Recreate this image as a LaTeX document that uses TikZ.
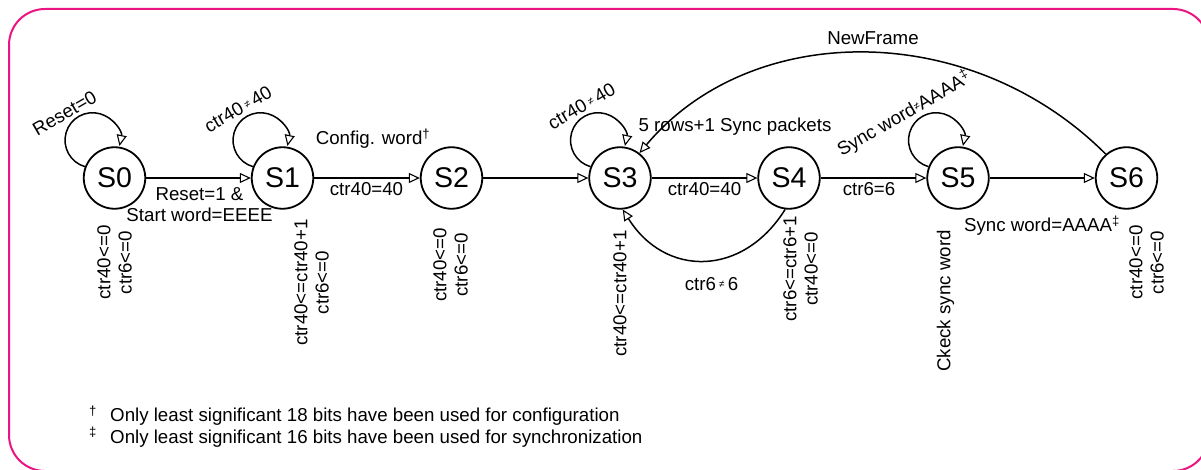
\documentclass[tikz,border=0pt]{standalone}
\usepackage{fontspec}
\setmainfont{Liberation Sans}
\usetikzlibrary{arrows.meta}
\definecolor{framepink}{RGB}{235,20,130}
% small "not equal" sign used in the guard labels
\newcommand\nq{{\fontsize{10}{10}\selectfont\raisebox{2.5pt}{≠}}}
\begin{document}
\begin{tikzpicture}[x=1pt,y=1pt,
  state/.style={circle,draw,line width=1.8pt,minimum size=61.5pt,inner sep=0pt,
    font=\fontsize{28.5}{30}\selectfont},
  lbl/.style={inner sep=0pt,font=\fontsize{18.7}{21.3}\selectfont},
  arr/.style={line width=1.5pt,-{Triangle[open,length=11pt,width=10pt,line width=1.1pt]}},
  vlbl/.style={lbl,rotate=90,align=center},
  llbl/.style={lbl,rotate=30},
]
\useasboundingbox (0,0) rectangle (1201,-470);
\draw[framepink,line width=2pt,rounded corners=36pt] (9,-9) rectangle (1209,-471);

% states
\foreach \i/\x in {0/114.5,1/282.5,2/451.5,3/620,4/789,5/958,6/1126.5}
  \node[state] (S\i) at (\x,-178) {S\i};

% forward transitions
\draw[arr] (S0) -- (S1);
\draw[arr] (S1) -- (S2);
\draw[arr] (S2) -- (S3);
\draw[arr] (S3) -- (S4);
\draw[arr] (S4) -- (S5);
\draw[arr] (S5) -- (S6);

% self loops
\foreach \s in {S0,S1,S3,S5}
  \draw[arr] (\s.159) arc[start angle=254,end angle=-12,radius=27.5];

% back transitions
\draw[arr] (S4.263) .. controls +(238:80) and +(302:80) .. (S3.-85);
\draw[arr] (S6.131) .. controls +(135:191) and +(50:174) .. (S3.52);

% transition labels
\node[lbl,align=center,anchor=base] (l01) at (199.5,-221.5) {Reset=1 \&\\Start word=EEEE};
\node[lbl,anchor=base] (l12) at (366.5,-196) {ctr40=40};
\node[lbl,anchor=base] (cfg) at (373,-145) {Config. word\textsuperscript{†}};
\node[lbl,anchor=base] (l34) at (704.5,-196) {ctr40=40};
\node[lbl,anchor=base] (rows) at (735,-131.7) {5 rows+1 Sync packets};
\node[lbl,anchor=base] (l45) at (869,-196) {ctr6=6};
\node[lbl,anchor=base] (l56) at (1042,-231.7) {Sync word=AAAA\textsuperscript{‡}};
\node[lbl,anchor=base] (nf) at (873,-45) {NewFrame};
\node[lbl,anchor=base] (l43) at (711.5,-290) {ctr6\,\nq\,6};

% loop labels
\node[llbl] (r0) at (64.5,-113) {Reset=0};
\node[llbl] (r1) at (238,-109) {ctr40\,\nq\,40};
\node[llbl] (r3) at (581.5,-106) {ctr40\,\nq\,40};
\node[llbl] (r5) at (904,-114) {Sync word\nq AAAA\textsuperscript{‡}};

% state actions
\node[vlbl] (a0) at (114.5,-262.5) {ctr40<=0\\ctr6<=0};
\node[vlbl] (a1) at (311.5,-282.5) {ctr40<=ctr40+1\\ctr6<=0};
\node[vlbl] (a2) at (450.5,-265) {ctr40<=0\\ctr6<=0};
\node[vlbl] (a3) at (620,-293.5) {ctr40<=ctr40+1};
\node[vlbl] (a4) at (800.5,-269) {ctr6<=ctr6+1\\ctr40<=0};
\node[vlbl] (a5) at (945.5,-301) {Ckeck sync word};
\node[vlbl] (a6) at (1146.5,-262.5) {ctr40<=0\\ctr6<=0};

% footnotes
\node[lbl,anchor=base west] (fn1) at (89,-421.7)
  {\makebox[21pt][l]{\textsuperscript{†}}Only least significant 18 bits have been used for configuration};
\node[lbl,anchor=base west] (fn2) at (89,-443)
  {\makebox[21pt][l]{\textsuperscript{‡}}Only least significant 16 bits have been used for synchronization};
\end{tikzpicture}
\end{document}
